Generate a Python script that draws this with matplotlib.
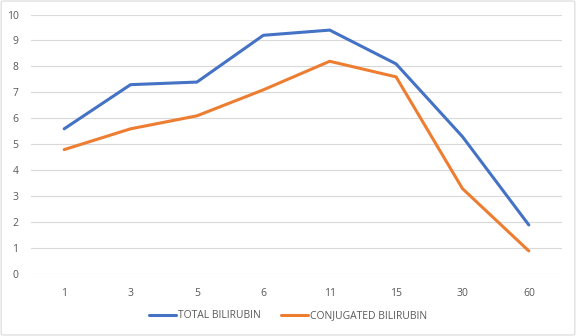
import matplotlib
matplotlib.use("Agg")
import matplotlib.pyplot as plt
from matplotlib.patches import FancyBboxPatch

days = ["1", "3", "5", "6", "11", "15", "30", "60"]
total_bilirubin = [5.6, 7.3, 7.4, 9.2, 9.4, 8.1, 5.3, 1.9]
conjugated_bilirubin = [4.8, 5.6, 6.1, 7.1, 8.2, 7.6, 3.3, 0.9]

TEXT = "#595959"
GRID = "#D9D9D9"

plt.rcParams["font.family"] = ["Open Sans", "DejaVu Sans"]

fig = plt.figure(figsize=(5.76, 3.36), dpi=100)
ax = fig.add_axes([0.0538, 0.1836, 0.9219, 0.7732])

x = range(len(days))
ax.plot(x, total_bilirubin, color="#4472C4", lw=2.2, label="TOTAL BILIRUBIN",
        solid_joinstyle="round", solid_capstyle="round")
ax.plot(x, conjugated_bilirubin, color="#ED7D31", lw=2.2, label="CONJUGATED BILIRUBIN",
        solid_joinstyle="round", solid_capstyle="round")

ax.set_xlim(-0.5, len(days) - 0.5)
ax.set_ylim(0, 10)
ax.set_yticks(range(0, 11))
ax.set_xticks(list(x))
ax.set_xticklabels(days)
ax.grid(axis="y", color=GRID, lw=0.8)
ax.set_axisbelow(True)
for s in ax.spines.values():
    s.set_visible(False)
ax.tick_params(length=0, labelsize=7.5, labelcolor=TEXT)
ax.tick_params(axis="x", pad=10)
ax.tick_params(axis="y", pad=9)

leg = fig.legend(loc="center", bbox_to_anchor=(0.5, 0.06), ncol=2, frameon=False,
                 fontsize=7.5, handlelength=2.6, columnspacing=1.9, handletextpad=0.2)
for t in leg.get_texts():
    t.set_color(TEXT)

fig.patches.append(FancyBboxPatch((0.002, 0.003), 0.996, 0.994, boxstyle="round,pad=0,rounding_size=0.005",
                                  transform=fig.transFigure, fill=False, ec=GRID, lw=0.8))

fig.savefig("out.png", dpi=100, facecolor="white")
